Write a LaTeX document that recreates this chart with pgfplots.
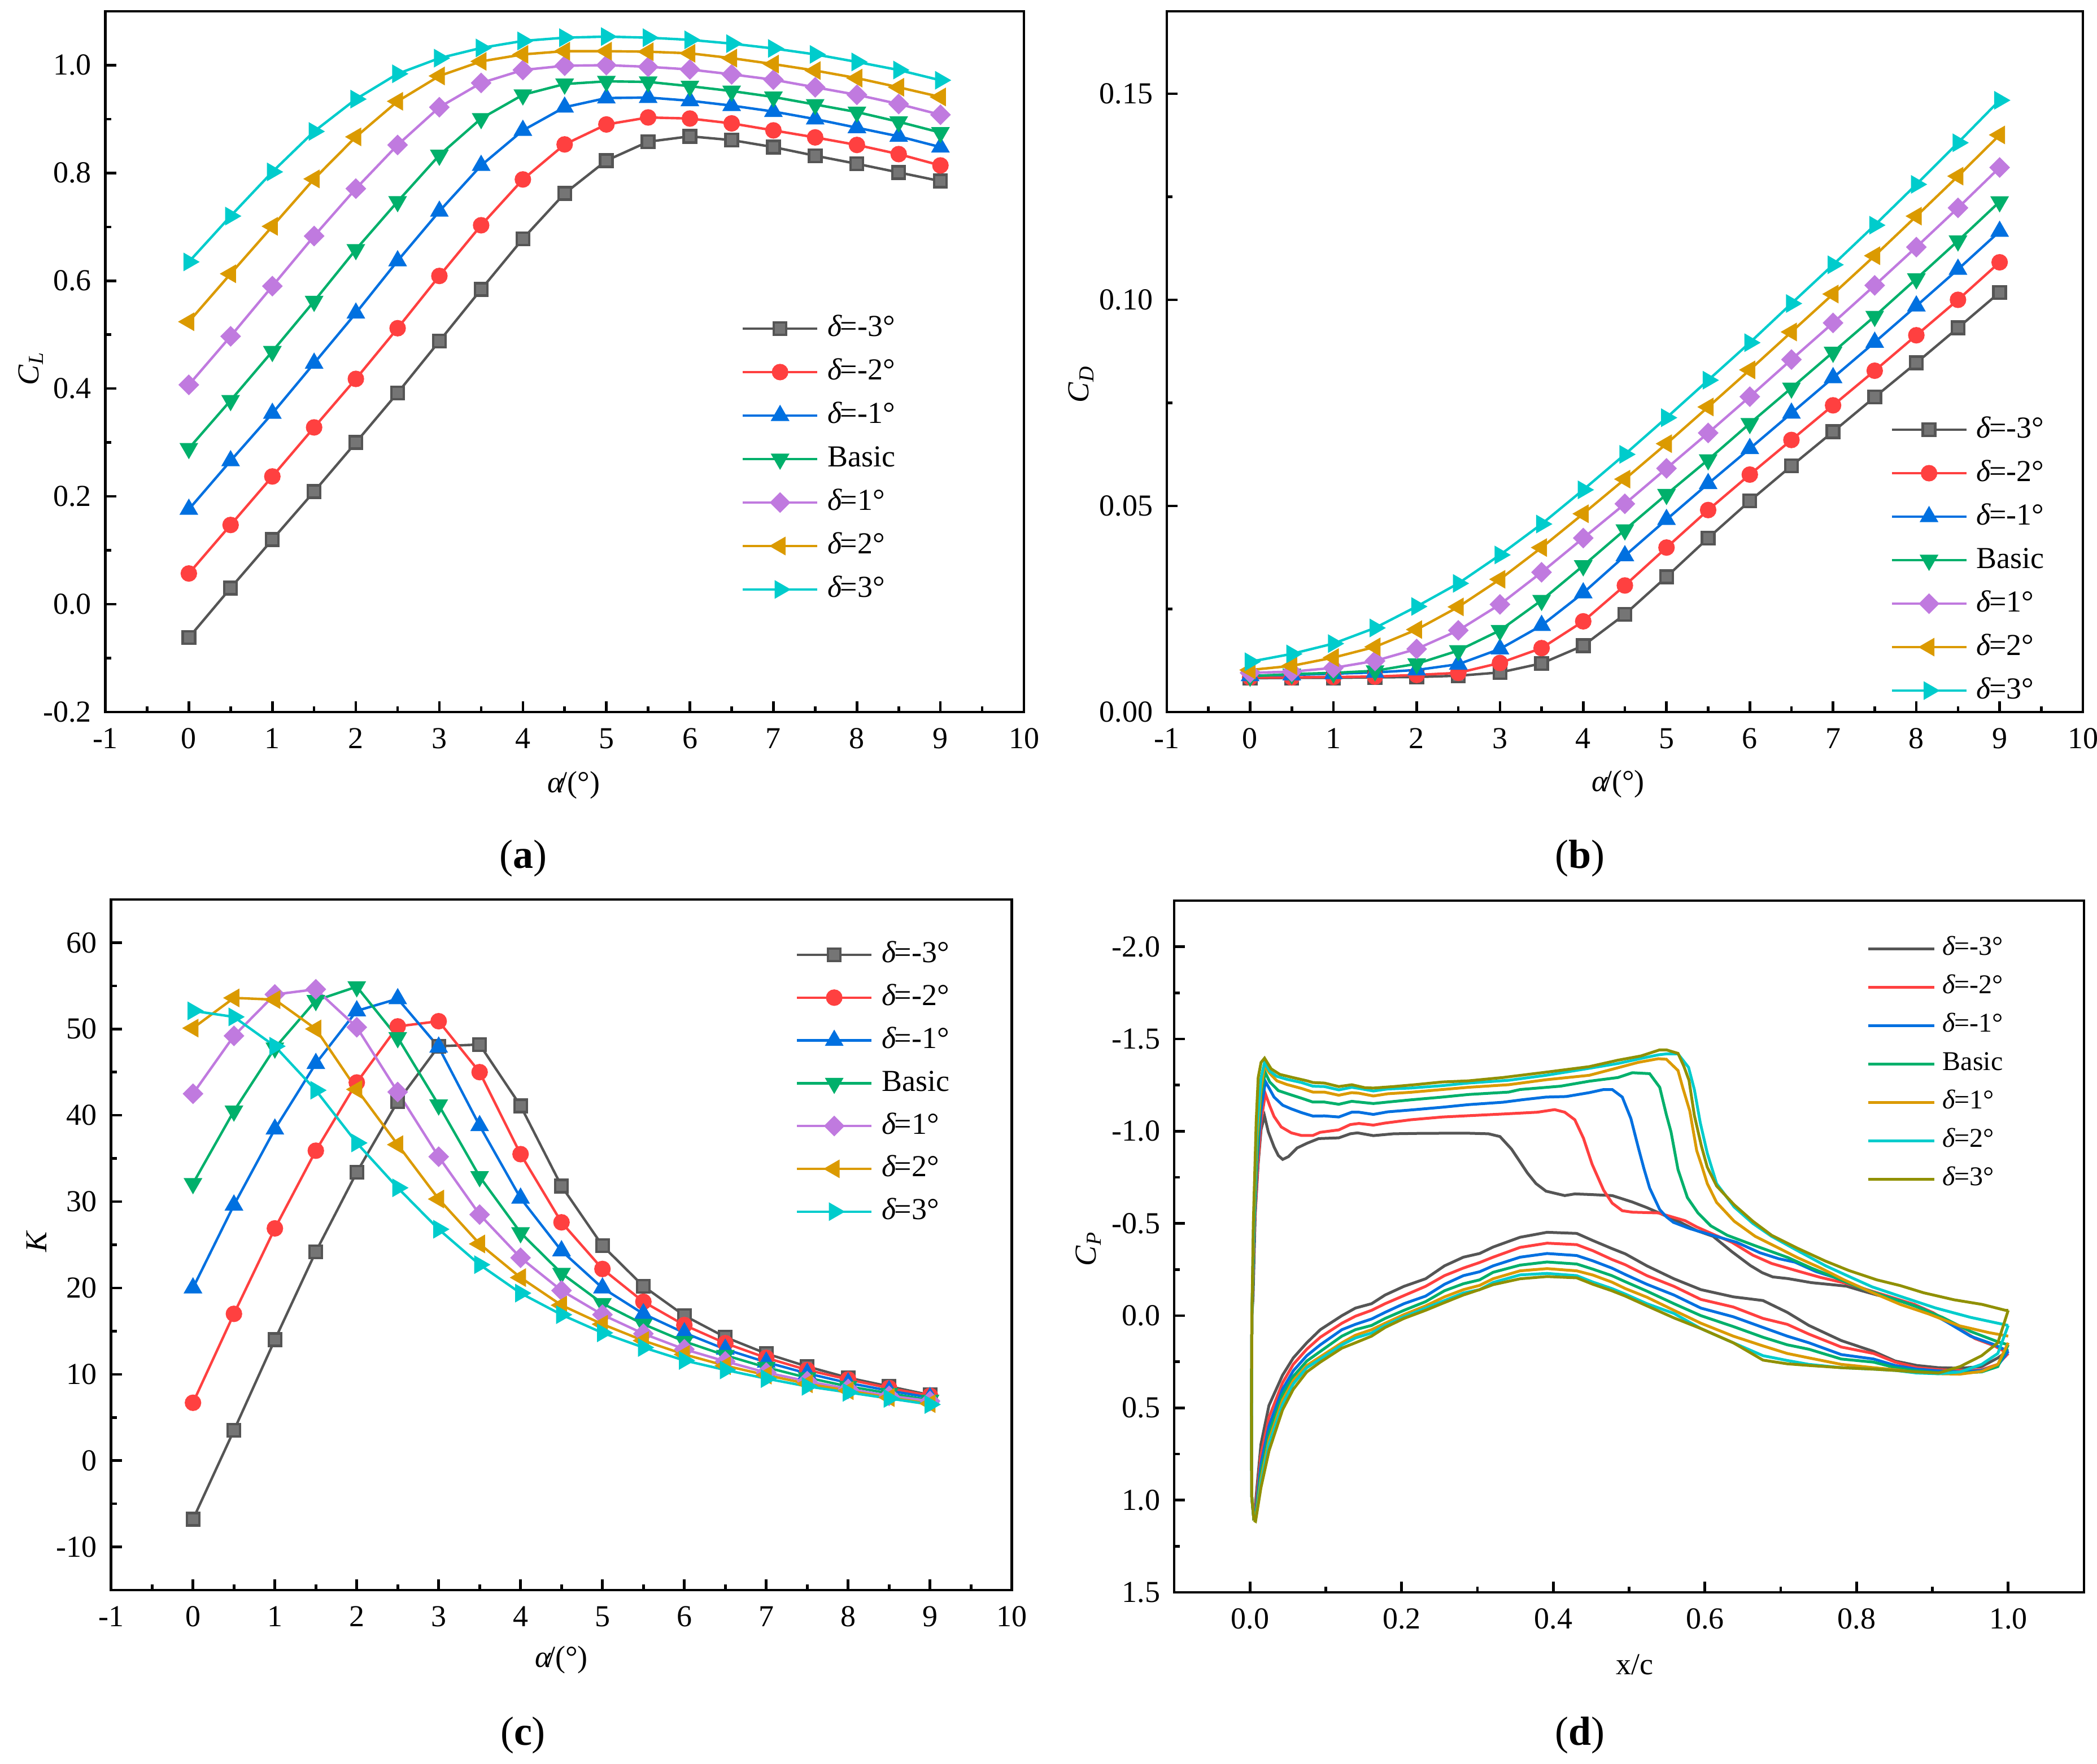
\documentclass[border=0pt]{standalone}
\usepackage{fontspec}
\usepackage{pgfplots}
\usepackage{pgfplotstable}
\pgfplotsset{compat=1.18}
\setmainfont{Liberation Serif}

\newcommand\fa{\fontsize{13.5pt}{16pt}\selectfont}
\newcommand\fb{\fontsize{12pt}{14pt}\selectfont}
\newcommand\dl[1]{\textit{δ}\kern-.06em=#1°}
\newcommand\alab{\textit{α}\kern-.16em/(°)}

\definecolor{cgrey}{HTML}{555555}
\definecolor{mgrey}{HTML}{757575}
\definecolor{cred}{HTML}{FF4040}
\definecolor{cblue}{HTML}{0070E0}
\definecolor{cgreen}{HTML}{00B06B}
\definecolor{cpurple}{HTML}{C07ADF}
\definecolor{corange}{HTML}{DB9A00}
\definecolor{ccyan}{HTML}{00CCCC}
\definecolor{colive}{HTML}{909000}

\pgfplotsset{
  panel/.style={
    scale only axis,
    anchor=south west,
    axis line style={line width=1.15pt},
    every tick/.style={black,line width=1.15pt},
    major tick length=4.75pt,
    minor tick length=2.5pt,
    tick align=inside,
    tick pos=lower,
    xtick pos=lower, ytick pos=left,
    scaled ticks=false,
    minor x tick num=1,
    minor y tick num=1,
    /pgf/number format/assume math mode=true,
    tick label style={font=\fa},
    label style={font=\fa},
    xticklabel style={inner sep=0pt,yshift=-7pt},
    yticklabel style={inner sep=0pt,xshift=-6pt},
    legend cell align=left,
    legend image code/.code={
      \draw[mark repeat=2,mark phase=2,##1] plot coordinates {(0pt,0pt)(16.5pt,0pt)(33pt,0pt)};
    },
  },
  leg/.style={
    legend style={
      draw=none,fill=none,inner sep=0pt,outer sep=0pt,font=\fa,
      row sep=#1,
      nodes={inner sep=0pt,text height=9.5pt,text depth=2.5pt},
      /tikz/every odd column/.append style={column sep=4pt},
    },
  },
  sa/.style={cgrey,line width=1.1pt,mark=square*,mark size=2.75pt,mark options={fill=mgrey,draw=none}},
  sb/.style={cred,line width=1.1pt,mark=*,mark size=3.1pt,mark options={fill=cred,draw=none}},
  sc/.style={cblue,line width=1.1pt,mark=triangle*,mark size=3.7pt,mark options={fill=cblue,draw=none}},
  sd/.style={cgreen,line width=1.1pt,mark=triangle*,mark size=3.7pt,mark options={fill=cgreen,draw=none,rotate=180}},
  se/.style={cpurple,line width=1.1pt,mark=square*,mark size=2.7pt,mark options={fill=cpurple,draw=none,rotate=45}},
  sf/.style={corange,line width=1.1pt,mark=triangle*,mark size=3.7pt,mark options={fill=corange,draw=none,rotate=90}},
  sg/.style={ccyan,line width=1.1pt,mark=triangle*,mark size=3.7pt,mark options={fill=ccyan,draw=none,rotate=-90}},
}

\pgfplotstableread{
a   m3     m2    m1    b0    p1    p2    p3
0   -0.062 0.057 0.176 0.289 0.407 0.524 0.635
0.5 0.030  0.147 0.266 0.378 0.497 0.613 0.720
1   0.120  0.237 0.354 0.469 0.590 0.701 0.802
1.5 0.209  0.328 0.447 0.562 0.683 0.789 0.877
2   0.300  0.418 0.540 0.658 0.771 0.867 0.937
2.5 0.392  0.512 0.637 0.747 0.852 0.933 0.984
3   0.488  0.609 0.729 0.833 0.922 0.980 1.013
3.5 0.584  0.703 0.814 0.901 0.967 1.007 1.032
4   0.678  0.788 0.879 0.945 0.991 1.020 1.045
4.5 0.762  0.853 0.922 0.965 0.999 1.026 1.051
5   0.823  0.890 0.939 0.970 1.000 1.026 1.053
5.5 0.858  0.903 0.940 0.969 0.997 1.025 1.051
6   0.868  0.901 0.934 0.961 0.992 1.022 1.047
6.5 0.861  0.892 0.925 0.952 0.983 1.013 1.040
7   0.848  0.879 0.914 0.941 0.973 1.002 1.031
7.5 0.832  0.866 0.900 0.927 0.959 0.990 1.020
8   0.817  0.852 0.884 0.913 0.945 0.976 1.006
8.5 0.801  0.835 0.868 0.895 0.928 0.959 0.991
9   0.785  0.814 0.848 0.875 0.908 0.941 0.972
}\tableCL

\pgfplotstableread{
a   m3     m2     m1     b0     p1     p2     p3
0   0.0082 0.0084 0.0088 0.0087 0.0095 0.0102 0.0122
0.5 0.0083 0.0084 0.0090 0.0092 0.0098 0.0112 0.0141
1   0.0083 0.0085 0.0093 0.0095 0.0107 0.0132 0.0166
1.5 0.0084 0.0086 0.0096 0.0100 0.0124 0.0158 0.0204
2   0.0085 0.0090 0.0102 0.0117 0.0153 0.0200 0.0256
2.5 0.0088 0.0095 0.0116 0.0149 0.0198 0.0255 0.0312
3   0.0096 0.0119 0.0153 0.0198 0.0261 0.0322 0.0381
3.5 0.0118 0.0155 0.0210 0.0271 0.0339 0.0399 0.0456
4   0.0161 0.0220 0.0289 0.0355 0.0422 0.0481 0.0539
4.5 0.0237 0.0307 0.0379 0.0442 0.0505 0.0565 0.0625
5   0.0328 0.0399 0.0467 0.0528 0.0591 0.0651 0.0714
5.5 0.0422 0.0490 0.0554 0.0612 0.0677 0.0740 0.0805
6   0.0512 0.0576 0.0639 0.0700 0.0765 0.0830 0.0896
6.5 0.0597 0.0660 0.0725 0.0786 0.0855 0.0922 0.0991
7   0.0680 0.0744 0.0811 0.0873 0.0944 0.1014 0.1085
7.5 0.0764 0.0828 0.0897 0.0960 0.1035 0.1107 0.1181
8   0.0847 0.0914 0.0985 0.1051 0.1128 0.1203 0.1280
8.5 0.0932 0.1000 0.1074 0.1143 0.1223 0.1300 0.1381
9   0.1018 0.1091 0.1166 0.1238 0.1321 0.1400 0.1484
}\tableCD

\pgfplotstableread{
a   m3    m2   m1   b0   p1   p2   p3
0   -6.8  6.7  20.0 32.1 42.5 50.1 52.1
0.5 3.5   17.0 29.6 40.5 49.2 53.6 51.4
1   14.0  26.9 38.4 47.8 54.0 53.4 48.0
1.5 24.2  35.9 46.0 53.3 54.6 50.0 42.9
2   33.4  43.8 52.1 54.9 50.2 43.0 36.8
2.5 41.6  50.3 53.5 49.0 42.7 36.6 31.6
3   48.0  50.9 47.9 41.2 35.2 30.3 26.8
3.5 48.2  45.0 38.8 32.9 28.5 25.1 22.7
4   41.1  35.5 30.4 26.4 23.5 21.2 19.4
4.5 31.8  27.6 24.3 21.7 19.7 18.0 16.9
5   24.9  22.2 20.0 18.2 16.9 15.8 14.8
5.5 20.2  18.4 17.0 15.8 14.7 13.9 13.1
6   16.8  15.7 14.8 13.8 12.9 12.3 11.6
6.5 14.3  13.6 12.9 12.2 11.5 11.0 10.5
7   12.4  11.9 11.4 10.8 10.2 9.9  9.5
7.5 10.9  10.5 10.1 9.6  9.2  8.9  8.6
8   9.6   9.4  9.0  8.6  8.3  8.1  7.9
8.5 8.6   8.4  8.1  7.8  7.5  7.3  7.2
9   7.6   7.5  7.3  7.0  6.9  6.6  6.5
}\tableK

% lower surface of the pressure plot, one x grid for all cases
\pgfplotstableread{
x      m3     m2     m1     b0     p1     p2     p3
0.0052 1.110  1.110  1.110  1.110  1.110  1.110  1.110
0.0073 1.015  1.051  1.074  1.092  1.103  1.109  1.115
0.0144 0.698  0.757  0.804  0.851  0.886  0.910  0.933
0.0250 0.487  0.552  0.599  0.640  0.675  0.698  0.734
0.0429 0.323  0.364  0.399  0.428  0.458  0.481  0.511
0.0571 0.229  0.264  0.299  0.329  0.352  0.370  0.399
0.0749 0.147  0.182  0.217  0.246  0.270  0.282  0.305
0.0927 0.076  0.117  0.158  0.194  0.223  0.235  0.252
0.1212 0.000  0.041  0.076  0.111  0.147  0.158  0.176
0.1390 -0.041 0.003  0.047  0.076  0.106  0.121  0.147
0.1604 -0.065 -0.029 0.018  0.053  0.076  0.094  0.111
0.1782 -0.112 -0.065 -0.018 0.015  0.041  0.053  0.064
0.2031 -0.159 -0.109 -0.065 -0.029 -0.006 0.006  0.015
0.2316 -0.200 -0.159 -0.106 -0.076 -0.053 -0.041 -0.029
0.2565 -0.270 -0.217 -0.170 -0.135 -0.102 -0.082 -0.071
0.2814 -0.317 -0.258 -0.217 -0.173 -0.141 -0.123 -0.112
0.3028 -0.337 -0.288 -0.238 -0.194 -0.164 -0.141 -0.141
0.3206 -0.372 -0.317 -0.270 -0.235 -0.200 -0.180 -0.168
0.3562 -0.425 -0.370 -0.317 -0.274 -0.243 -0.221 -0.200
0.3918 -0.452 -0.393 -0.337 -0.291 -0.255 -0.229 -0.212
0.4309 -0.446 -0.385 -0.326 -0.280 -0.243 -0.217 -0.205
0.4523 -0.407 -0.352 -0.297 -0.252 -0.220 -0.182 -0.170
0.4772 -0.364 -0.305 -0.258 -0.217 -0.182 -0.147 -0.135
0.4950 -0.335 -0.276 -0.223 -0.184 -0.147 -0.117 -0.106
0.5235 -0.270 -0.217 -0.170 -0.133 -0.100 -0.065 -0.053
0.5591 -0.200 -0.159 -0.112 -0.065 -0.029 -0.012 0.012
0.5947 -0.141 -0.088 -0.041 0.000  0.041  0.070  0.070
0.6374 -0.102 -0.047 0.006  0.059  0.111  0.147  0.147
0.6766 -0.082 0.015  0.064  0.117  0.164  0.217  0.241
0.7086 -0.018 0.047  0.111  0.158  0.205  0.243  0.261
0.7371 0.053  0.100  0.147  0.182  0.229  0.264  0.270
0.7798 0.135  0.170  0.211  0.235  0.264  0.282  0.282
0.8225 0.194  0.205  0.235  0.252  0.282  0.290  0.290
0.8510 0.246  0.252  0.270  0.282  0.293  0.297  0.297
0.8795 0.270  0.282  0.290  0.299  0.308  0.311  0.305
0.9080 0.282  0.293  0.299  0.309  0.315  0.315  0.311
0.9365 0.285  0.297  0.305  0.311  0.317  0.305  0.276
0.9650 0.276  0.293  0.297  0.305  0.302  0.264  0.217
0.9863 0.229  0.264  0.270  0.276  0.264  0.205  0.147
1.0000 0.190  0.205  0.194  0.158  0.147  0.053  -0.029
}\tableLow

\begin{document}
\begin{tikzpicture}
\path[use as bounding box] (0,0) rectangle (928.25pt,781pt);

% (a) lift
\begin{axis}[panel,leg=7.25pt,
  at={(46.625pt,465.75pt)},width=406.625pt,height=310.25pt,
  xmin=-1,xmax=10,ymin=-0.2,ymax=1.1,
  xtick={-1,0,...,10},
  ytick={-0.2,0,0.2,0.4,0.6,0.8,1.0},
  yticklabel style={/pgf/number format/.cd,fixed,fixed zerofill,precision=1},
  xlabel={\alab},ylabel={\textit{C}\textsubscript{\textit{L}}},
  xlabel style={at={(axis description cs:0.5,0)},anchor=center,yshift=-32.5pt,xshift=4pt},
  ylabel style={at={(axis description cs:0,0.5)},anchor=center,yshift=33pt,xshift=-3pt},
  legend style={at={(axis description cs:0.6926,0.5665)},anchor=north west},
]
\addplot[sa] table[x=a,y=m3] {\tableCL}; \addlegendentry{\dl{-3}}
\addplot[sb] table[x=a,y=m2] {\tableCL}; \addlegendentry{\dl{-2}}
\addplot[sc] table[x=a,y=m1] {\tableCL}; \addlegendentry{\dl{-1}}
\addplot[sd] table[x=a,y=b0] {\tableCL}; \addlegendentry{Basic}
\addplot[se] table[x=a,y=p1] {\tableCL}; \addlegendentry{\dl{1}}
\addplot[sf] table[x=a,y=p2] {\tableCL}; \addlegendentry{\dl{2}}
\addplot[sg] table[x=a,y=p3] {\tableCL}; \addlegendentry{\dl{3}}
\end{axis}

% (b) drag
\begin{axis}[panel,leg=7.25pt,
  at={(516.5pt,465.75pt)},width=405.5pt,height=310.25pt,
  xmin=-1,xmax=10,ymin=0,ymax=0.17,
  xtick={-1,0,...,10},
  ytick={0,0.05,0.10,0.15},
  yticklabel style={/pgf/number format/.cd,fixed,fixed zerofill,precision=2},
  xlabel={\alab},ylabel={\textit{C}\textsubscript{\textit{D}}},
  xlabel style={at={(axis description cs:0.5,0)},anchor=center,yshift=-32pt,xshift=-3pt},
  ylabel style={at={(axis description cs:0,0.5)},anchor=center,yshift=38pt,xshift=-10pt},
  legend style={at={(axis description cs:0.790,0.4222)},anchor=north west},
]
\addplot[sa] table[x=a,y=m3] {\tableCD}; \addlegendentry{\dl{-3}}
\addplot[sb] table[x=a,y=m2] {\tableCD}; \addlegendentry{\dl{-2}}
\addplot[sc] table[x=a,y=m1] {\tableCD}; \addlegendentry{\dl{-1}}
\addplot[sd] table[x=a,y=b0] {\tableCD}; \addlegendentry{Basic}
\addplot[se] table[x=a,y=p1] {\tableCD}; \addlegendentry{\dl{1}}
\addplot[sf] table[x=a,y=p2] {\tableCD}; \addlegendentry{\dl{2}}
\addplot[sg] table[x=a,y=p3] {\tableCD}; \addlegendentry{\dl{3}}
\end{axis}

% (c) lift to drag ratio
\begin{axis}[panel,leg=6.95pt,
  at={(49.175pt,77pt)},width=398.75pt,height=305.75pt,
  xmin=-1,xmax=10,ymin=-15,ymax=65,
  xtick={-1,0,...,10},
  ytick={-10,0,...,60},
  xlabel={\alab},ylabel={\textit{K}},
  xlabel style={at={(axis description cs:0.5,0)},anchor=center,yshift=-31pt},
  ylabel style={at={(axis description cs:0,0.5)},anchor=center,yshift=33pt,xshift=1.5pt},
  legend style={at={(axis description cs:0.760,0.9395)},anchor=north west},
]
\addplot[sa] table[x=a,y=m3] {\tableK}; \addlegendentry{\dl{-3}}
\addplot[sb] table[x=a,y=m2] {\tableK}; \addlegendentry{\dl{-2}}
\addplot[sc] table[x=a,y=m1] {\tableK}; \addlegendentry{\dl{-1}}
\addplot[sd] table[x=a,y=b0] {\tableK}; \addlegendentry{Basic}
\addplot[se] table[x=a,y=p1] {\tableK}; \addlegendentry{\dl{1}}
\addplot[sf] table[x=a,y=p2] {\tableK}; \addlegendentry{\dl{2}}
\addplot[sg] table[x=a,y=p3] {\tableK}; \addlegendentry{\dl{3}}
\end{axis}

% (d) pressure distribution
\begin{axis}[panel,
  at={(519.75pt,76pt)},width=402.75pt,height=306.25pt,
  xmin=-0.1,xmax=1.1,ymin=-2.25,ymax=1.5,y dir=reverse,
  xtick={0,0.2,0.4,0.6,0.8,1.0},
  ytick={-2,-1.5,-1,-0.5,0,0.5,1,1.5},
  xticklabel style={/pgf/number format/.cd,fixed,fixed zerofill,precision=1},
  yticklabel style={/pgf/number format/.cd,fixed,fixed zerofill,precision=1},
  xlabel={x/c},ylabel={\textit{C}\textsubscript{\textit{P}}},
  xlabel style={at={(axis description cs:0.5,0)},anchor=center,yshift=-32pt,xshift=2.6pt},
  ylabel style={at={(axis description cs:0,0.5)},anchor=center,yshift=38pt,xshift=-1pt},
  legend image code/.code={
    \draw[#1] plot coordinates {(0pt,0pt)(29.25pt,0pt)};
  },
  legend style={at={(axis description cs:0.7616,0.947)},anchor=north west,
    draw=none,fill=none,inner sep=0pt,outer sep=0pt,font=\fb,row sep=6.9pt,
    nodes={inner sep=0pt,text height=8pt,text depth=2.1pt},
    /tikz/every odd column/.append style={column sep=3pt}},
  every axis plot/.append style={line width=1.25pt},
]
\addplot[cgrey] table {
x y
0.0052 1.11
0.0023 0.98
0.0020 0.50
0.0025 0.00
0.0040 -0.093
0.0070 -0.563
0.0108 -0.821
0.0146 -1.009
0.0192 -1.082
0.0241 -0.997
0.0317 -0.915
0.0374 -0.868
0.0431 -0.847
0.0507 -0.862
0.0621 -0.909
0.0754 -0.935
0.0906 -0.960
0.1171 -0.964
0.1323 -0.986
0.1418 -0.991
0.1627 -0.976
0.1893 -0.986
0.2196 -0.988
0.2576 -0.989
0.2880 -0.989
0.3145 -0.986
0.3297 -0.971
0.3449 -0.903
0.3563 -0.833
0.3658 -0.774
0.3772 -0.716
0.3904 -0.675
0.4151 -0.651
0.4284 -0.660
0.4474 -0.657
0.4777 -0.651
0.5043 -0.616
0.5233 -0.586
0.5461 -0.545
0.5676 -0.506
0.5892 -0.461
0.6108 -0.430
0.6355 -0.347
0.6602 -0.271
0.6756 -0.233
0.6895 -0.210
0.7095 -0.201
0.7404 -0.179
0.7650 -0.169
0.7866 -0.160
0.8052 -0.137
0.8268 -0.112
0.8545 -0.086
0.8761 -0.061
0.9008 -0.016
0.9286 0.054
0.9563 0.124
0.9810 0.162
1.0000 0.190
};
\addlegendentry{\dl{-3}}
\addplot[cgrey,forget plot] table[x=x,y=m3] {\tableLow};
\addplot[cred] table {
x y
0.0052 1.11
0.0023 0.98
0.0020 0.50
0.0025 0.00
0.0063 -0.504
0.0101 -0.798
0.0146 -1.056
0.0203 -1.203
0.0260 -1.138
0.0317 -1.080
0.0412 -1.023
0.0545 -0.991
0.0678 -0.977
0.0830 -0.977
0.0925 -0.994
0.1171 -1.007
0.1323 -1.036
0.1437 -1.042
0.1627 -1.033
0.1779 -1.044
0.2120 -1.062
0.2538 -1.077
0.2880 -1.084
0.3373 -1.094
0.3791 -1.103
0.4018 -1.117
0.4151 -1.103
0.4284 -1.062
0.4398 -0.962
0.4512 -0.821
0.4664 -0.680
0.4777 -0.610
0.4910 -0.569
0.5043 -0.561
0.5385 -0.557
0.5738 -0.515
0.5892 -0.481
0.6139 -0.436
0.6355 -0.398
0.6632 -0.328
0.6879 -0.283
0.7249 -0.239
0.7527 -0.207
0.7866 -0.175
0.8113 -0.144
0.8422 -0.105
0.8761 -0.061
0.9008 -0.016
0.9286 0.054
0.9563 0.124
0.9810 0.162
1.0000 0.205
};
\addlegendentry{\dl{-2}}
\addplot[cred,forget plot] table[x=x,y=m2] {\tableLow};
\addplot[cblue] table {
x y
0.0052 1.11
0.0023 0.98
0.0020 0.50
0.0025 0.00
0.0059 -0.504
0.0097 -0.856
0.0146 -1.115
0.0203 -1.270
0.0317 -1.185
0.0431 -1.141
0.0545 -1.121
0.0678 -1.101
0.0830 -1.082
0.0982 -1.083
0.1171 -1.077
0.1342 -1.103
0.1437 -1.103
0.1627 -1.091
0.1817 -1.105
0.2120 -1.115
0.2538 -1.130
0.2880 -1.144
0.3335 -1.157
0.3601 -1.171
0.3904 -1.185
0.4170 -1.188
0.4474 -1.209
0.4664 -1.226
0.4777 -1.226
0.4910 -1.185
0.5024 -1.068
0.5119 -0.915
0.5195 -0.798
0.5271 -0.692
0.5404 -0.575
0.5491 -0.536
0.5584 -0.506
0.5800 -0.472
0.6046 -0.442
0.6417 -0.398
0.6725 -0.341
0.6972 -0.309
0.7188 -0.290
0.7465 -0.239
0.7712 -0.207
0.7959 -0.169
0.8268 -0.118
0.8576 -0.080
0.8885 -0.035
0.9193 0.035
0.9501 0.111
0.9810 0.156
1.0000 0.194
};
\addlegendentry{\dl{-1}}
\addplot[cblue,forget plot] table[x=x,y=m1] {\tableLow};
\addplot[cgreen] table {
x y
0.0052 1.11
0.0023 0.98
0.0020 0.50
0.0025 0.00
0.0055 -0.504
0.0097 -0.915
0.0146 -1.197
0.0200 -1.320
0.0260 -1.267
0.0374 -1.220
0.0526 -1.199
0.0678 -1.179
0.0830 -1.158
0.0982 -1.158
0.1171 -1.146
0.1342 -1.162
0.1437 -1.158
0.1627 -1.150
0.1817 -1.158
0.2120 -1.170
0.2538 -1.185
0.2880 -1.199
0.3411 -1.212
0.3563 -1.226
0.4094 -1.244
0.4474 -1.271
0.4853 -1.291
0.5043 -1.317
0.5271 -1.312
0.5404 -1.238
0.5491 -1.090
0.5553 -0.996
0.5645 -0.792
0.5769 -0.640
0.5908 -0.557
0.6077 -0.487
0.6293 -0.436
0.6663 -0.379
0.7095 -0.315
0.7404 -0.258
0.7712 -0.207
0.8052 -0.150
0.8422 -0.099
0.8761 -0.054
0.9131 0.009
0.9501 0.085
0.9872 0.143
1.0000 0.158
};
\addlegendentry{Basic}
\addplot[cgreen,forget plot] table[x=x,y=b0] {\tableLow};
\addplot[corange] table {
x y
0.0052 1.11
0.0023 0.98
0.0020 0.50
0.0025 0.00
0.0051 -0.504
0.0093 -0.962
0.0146 -1.232
0.0192 -1.355
0.0260 -1.314
0.0355 -1.273
0.0488 -1.253
0.0678 -1.232
0.0830 -1.212
0.0982 -1.212
0.1171 -1.195
0.1342 -1.209
0.1437 -1.206
0.1627 -1.191
0.1817 -1.203
0.2120 -1.211
0.2538 -1.226
0.2880 -1.238
0.3411 -1.252
0.3904 -1.279
0.4474 -1.303
0.4853 -1.344
0.5119 -1.373
0.5385 -1.393
0.5491 -1.390
0.5645 -1.329
0.5707 -1.237
0.5800 -1.110
0.5892 -0.894
0.5954 -0.818
0.6031 -0.716
0.6154 -0.614
0.6386 -0.512
0.6663 -0.430
0.6941 -0.373
0.7219 -0.315
0.7527 -0.258
0.7836 -0.194
0.8175 -0.131
0.8576 -0.061
0.8946 -0.010
0.9347 0.054
0.9748 0.092
1.0000 0.111
};
\addlegendentry{\dl{1}}
\addplot[corange,forget plot] table[x=x,y=p1] {\tableLow};
\addplot[ccyan] table {
x y
0.0052 1.11
0.0023 0.98
0.0020 0.50
0.0025 0.00
0.0048 -0.504
0.0089 -1.009
0.0146 -1.291
0.0192 -1.373
0.0260 -1.326
0.0355 -1.297
0.0488 -1.281
0.0678 -1.264
0.0830 -1.244
0.0982 -1.242
0.1171 -1.224
0.1342 -1.238
0.1437 -1.232
0.1627 -1.218
0.1817 -1.229
0.2120 -1.234
0.2538 -1.247
0.2880 -1.261
0.3411 -1.276
0.3904 -1.303
0.4474 -1.341
0.4853 -1.367
0.5119 -1.391
0.5385 -1.414
0.5491 -1.419
0.5645 -1.419
0.5784 -1.346
0.5861 -1.225
0.5938 -1.047
0.6031 -0.881
0.6154 -0.716
0.6386 -0.589
0.6632 -0.500
0.6879 -0.430
0.7219 -0.353
0.7589 -0.271
0.7897 -0.213
0.8206 -0.156
0.8576 -0.105
0.9039 -0.042
0.9501 0.009
1.0000 0.053
};
\addlegendentry{\dl{2}}
\addplot[ccyan,forget plot] table[x=x,y=p2] {\tableLow};
\addplot[colive] table {
x y
0.0052 1.11
0.0023 0.98
0.0020 0.50
0.0025 0.00
0.0044 -0.504
0.0082 -1.056
0.0108 -1.291
0.0146 -1.373
0.0192 -1.396
0.0279 -1.338
0.0393 -1.308
0.0564 -1.291
0.0754 -1.273
0.0830 -1.264
0.0982 -1.261
0.1171 -1.242
0.1342 -1.252
0.1513 -1.236
0.1627 -1.234
0.1893 -1.242
0.2196 -1.253
0.2538 -1.267
0.2880 -1.273
0.3335 -1.291
0.3904 -1.320
0.4474 -1.350
0.4853 -1.385
0.5157 -1.408
0.5404 -1.441
0.5491 -1.441
0.5645 -1.422
0.5722 -1.352
0.5790 -1.276
0.5861 -1.085
0.5954 -0.919
0.6031 -0.805
0.6154 -0.703
0.6386 -0.601
0.6632 -0.512
0.6879 -0.436
0.7219 -0.366
0.7589 -0.296
0.7897 -0.245
0.8268 -0.194
0.8576 -0.163
0.8885 -0.124
0.9286 -0.086
0.9656 -0.061
0.9964 -0.029
1.0000 -0.029
};
\addlegendentry{\dl{3}}
\addplot[colive,forget plot] table[x=x,y=p3] {\tableLow};
\end{axis}

% panel captions
\node[font=\fontsize{18pt}{20pt}\selectfont] at (231.5pt,401pt) {(\textbf{a})};
\node[font=\fontsize{18pt}{20pt}\selectfont] at (699.25pt,401pt) {(\textbf{b})};
\node[font=\fontsize{18pt}{20pt}\selectfont] at (231.5pt,12.75pt) {(\textbf{c})};
\node[font=\fontsize{18pt}{20pt}\selectfont] at (699.25pt,12.75pt) {(\textbf{d})};
\end{tikzpicture}
\end{document}
